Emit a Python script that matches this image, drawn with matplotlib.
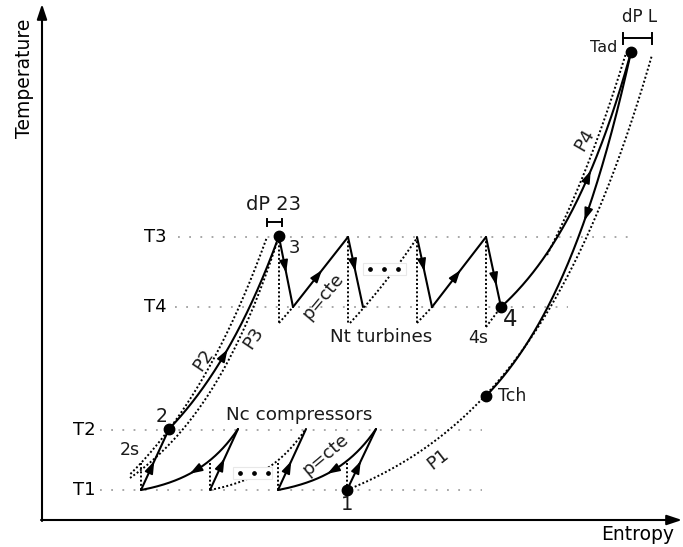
import numpy as np
import matplotlib.pyplot as plt
from matplotlib.patches import Rectangle

# Diagrama T-s esquemático (coordenadas en px de la figura, y hacia abajo)
W, H = 683, 547
Y0 = 547   # T = Y0 - y

# isotermas de referencia
iso_names = ["T1", "T2", "T4", "T3"]
iso_y = [490, 430, 307, 237]
iso_x0 = [100, 100, 175, 178]
iso_x1 = [482, 482, 568, 633]
iso_lx = [84, 84, 155, 155]

# puntos de estado
pt_names = ["1", "2", "3", "4", "Tch", "Tad"]
pt_x = [347, 169, 279, 501, 486, 631]
pt_y = [490, 429, 236, 307, 396, 52]

# compresores: entrada (T1) -> salida (T2)
comp_in = [141, 210, 278, 347]
comp_out = [169, 238, 306, 376]
comp_arrow = [0.40, 0.44, 0.40, 0.40]
comp_top = 463          # fin isentrópico

# turbinas: entrada (T3) -> salida (T4)
turb_in = [279, 348, 417, 486]
turb_out = [293, 363, 432, 501]
turb_bot = [323, 323, 323, 327]
turb_arrow = [0.44, 0.42, 0.42, 0.62]

# isobaras: (punto a, punto b, y inicio, y fin, curvatura)
P1 = ((347, 490), (652, 55), 490, 55, 0)
P2 = ((141, 463), (267, 237), 474, 237, -60)
P3 = ((130, 478), (279, 236), 478, 236, 0)
P4 = ((557, 235), (626, 53), 255, 53, 0)


def curve(pa, pb, ya, yb, k=0, n=200):
    ys = np.linspace(ya, yb, n)
    ua, ub = Y0 - k - pa[1], Y0 - k - pb[1]
    u = Y0 - k - ys
    xs = pa[0] + (pb[0] - pa[0]) * np.log(u / ua) / np.log(ub / ua)
    return xs, ys


def arrow_on(ax, xs, ys, frac):
    d = np.r_[0, np.cumsum(np.hypot(np.diff(xs), np.diff(ys)))]
    s = frac * d[-1]
    x0, y0 = np.interp(s - 7, d, xs), np.interp(s - 7, d, ys)
    x1, y1 = np.interp(s + 5, d, xs), np.interp(s + 5, d, ys)
    ax.annotate("", xy=(x1, y1), xytext=(x0, y0),
                arrowprops=dict(arrowstyle="-|>,head_length=0.75,head_width=0.26",
                                color="k", lw=1.2, mutation_scale=10,
                                shrinkA=0, shrinkB=0), zorder=5)


def solid(ax, xs, ys, frac=None):
    ax.plot(xs, ys, color="k", lw=1.5, solid_capstyle="round", zorder=4)
    if frac is not None:
        arrow_on(ax, np.asarray(xs, float), np.asarray(ys, float), frac)


DOT = dict(color="k", lw=1.4, ls=(0, (1, 1.15)), zorder=3)
GREY = dict(color="#a0a0a0", lw=1.3, ls=(0, (1, 5.2)), zorder=2)

fig = plt.figure(figsize=(W / 100, H / 100), dpi=100)
ax = fig.add_axes([0, 0, 1, 1])
ax.set_xlim(0, W)
ax.set_ylim(H, 0)
ax.axis("off")

# ejes
ax.annotate("", xy=(42, 4), xytext=(42, 521),
            arrowprops=dict(arrowstyle="-|>,head_length=0.9,head_width=0.3",
                            color="k", lw=1.5, mutation_scale=10, shrinkA=0, shrinkB=0))
ax.annotate("", xy=(682, 520), xytext=(41, 520),
            arrowprops=dict(arrowstyle="-|>,head_length=0.9,head_width=0.3",
                            color="k", lw=1.5, mutation_scale=10, shrinkA=0, shrinkB=0))
ax.text(24, 78, "Temperature", rotation=90, ha="center", va="center", fontsize=13.5)
ax.text(638, 534, "Entropy", ha="center", va="center", fontsize=13.5)

# isotermas
for name, y, x0, x1, lx in zip(iso_names, iso_y, iso_x0, iso_x1, iso_lx):
    ax.plot([x0, x1], [y, y], **GREY)
    ax.text(lx, y, name, ha="center", va="center", fontsize=13)

# isobaras punteadas
for pa, pb, ya, yb, k in [P1, P2, P3, P4]:
    xs, ys = curve(pa, pb, ya, yb, k)
    ax.plot(xs, ys, **DOT)

# compresores
for i, (xa, xb) in enumerate(zip(comp_in, comp_out)):
    ax.plot([xa, xa], [490, comp_top], **DOT)
    solid(ax, [xa, xb], [490, 429], comp_arrow[i])
# etapas omitidas (compresores)
xs, ys = curve((210, 490), (305, 430), 490, 430, 48)
ax.plot(xs, ys, **DOT)
# refrigeración intermedia p=cte
for xa, xb in [(comp_out[1], comp_in[0]), (comp_out[3], comp_in[2])]:
    xs, ys = curve((xa, 429), (xb, 490), 429, 490, 48)
    solid(ax, xs, ys, 0.52)

# turbinas
for i, (xa, xb) in enumerate(zip(turb_in, turb_out)):
    ax.plot([xa, xa], [237, turb_bot[i]], **DOT)
    if i != 1:
        ax.plot([xa, xb], [turb_bot[i], 307], **DOT)
    solid(ax, [xa, xb], [237, 307], turb_arrow[i])
xs, ys = curve((350, 323), (417, 238), 323, 238, 0)
ax.plot(xs, ys, **DOT)
# recalentamiento p=cte
for xa, xb in [(turb_out[0], turb_in[1]), (turb_out[2], turb_in[3])]:
    solid(ax, [xa, xb], [307, 237], 0.47)

# 2 -> 3, 4 -> Tad, Tad -> Tch
xs, ys = curve((169, 429), (279, 236), 429, 236, 0)
solid(ax, xs, ys, 0.42)
xs, ys = curve((501, 307), (631, 52), 307, 52, 155)
solid(ax, xs, ys, 0.55)
xs, ys = curve((631, 52), (486, 396), 52, 396, 50)
solid(ax, xs, ys, 0.45)

# cajas "· · ·"
for (bx, by, bw, bh), dy, dxs in [((233, 467, 39, 12), 473, [240, 254, 268]),
                                  ((363, 263, 43, 12), 269, [370, 384, 398])]:
    ax.add_patch(Rectangle((bx, by), bw, bh, fc="white", ec="#e8e8e8", lw=0.8, zorder=6))
    ax.plot(dxs, [dy] * 3, "o", color="k", ms=2.4, zorder=7)

# puntos
ax.plot(pt_x, pt_y, "o", color="k", ms=7.5, zorder=8)

# corchetes de pérdida de carga
for xa, xb, y, h in [(267, 282, 222, 3.5), (623, 652, 38, 5.5)]:
    ax.plot([xa, xb], [y, y], color="k", lw=1.4)
    ax.plot([xa, xa], [y - h, y + h], color="k", lw=1.4)
    ax.plot([xb, xb], [y - h, y + h], color="k", lw=1.4)

# etiquetas
labels = [
    ("dP 23", 274, 205, 14, 0), ("3", 294, 248, 13, 0),
    ("p=cte", 323, 296, 13, 50), ("Nt turbines", 381, 337, 13.2, 0),
    ("4s", 478, 338, 12.5, 0), ("4", 510, 320, 16.5, 0),
    ("Tch", 512, 396, 12.5, 0), ("P1", 438, 459, 13, 38),
    ("P4", 585, 140, 13, 60), ("Tad", 604, 47, 11.5, 0),
    ("dP L", 640, 17, 12, 0), ("P2", 203, 360, 13, 56),
    ("P3", 253, 338, 13, 56), ("2", 162, 416, 13.5, 0),
    ("2s", 130, 450, 12.5, 0), ("Nc compressors", 299, 415, 13.2, 0),
    ("p=cte", 325, 455, 13, 40), ("1", 347, 504, 14, 0),
]
for txt, x, y, fs, rot in labels:
    ax.text(x, y, txt, ha="center", va="center", fontsize=fs, rotation=rot,
            color="#1a1a1a", zorder=9)

fig.savefig("out.png", dpi=100)
